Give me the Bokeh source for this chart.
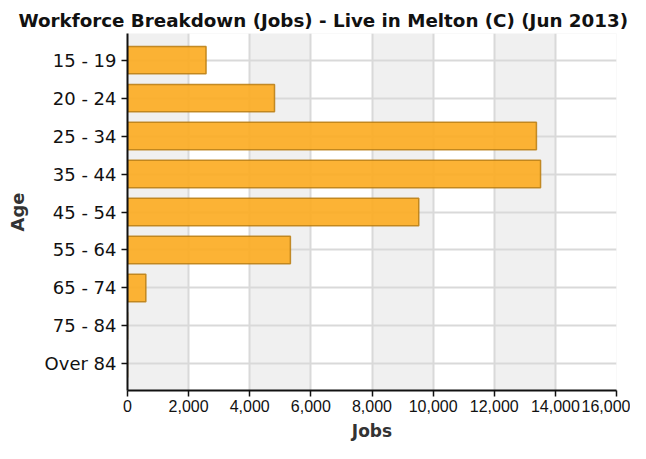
from bokeh.plotting import figure
from bokeh.models import FactorRange, Range1d, NumeralTickFormatter, FixedTicker
from bokeh.embed import file_html
from bokeh.resources import INLINE

ages = ["15 - 19", "20 - 24", "25 - 34", "35 - 44", "45 - 54", "55 - 64", "65 - 74", "75 - 84", "Over 84"]
jobs = [2570, 4810, 13380, 13515, 9530, 5330, 600, 0, 0]
x_ticks = [0, 2000, 4000, 6000, 8000, 10000, 12000, 14000, 16000]
title_text = "Workforce Breakdown (Jobs) - Live in Melton (C) (Jun 2013)"
x_label = "Jobs"
y_label = "Age"

p = figure(width=630, height=443, output_backend="svg", toolbar_location=None,
           y_range=FactorRange(factors=list(reversed(ages)), range_padding=0.2, range_padding_units="absolute"),
           x_range=Range1d(x_ticks[0], x_ticks[-1]))
p.min_border_left = 127
p.min_border_right = 14
p.min_border_top = 33
p.min_border_bottom = 53
p.outline_line_color = None
p.background_fill_color = "#F0F0F0"

p.hbar(y=ages, right=jobs, left=0, height=0.72, fill_color="#FCAB1F", fill_alpha=0.9,
       line_color="#B97C12", line_width=1.5, line_alpha=0.85)

p.title.text = title_text
p.title.align = "left"
p.title.offset = -109
p.title.standoff = 6
p.title.text_font = "DejaVu Sans"
p.title.text_font_size = "18.3px"
p.title.text_font_style = "bold"
p.title.text_color = "#111111"

p.xaxis.ticker = FixedTicker(ticks=x_ticks)
p.xaxis.formatter = NumeralTickFormatter(format="0,0")
p.xaxis.axis_label = x_label
p.yaxis.axis_label = y_label
for ax in (p.xaxis, p.yaxis):
    ax.axis_line_color = "#111111"
    ax.axis_line_width = 2
    ax.major_tick_line_color = "#111111"
    ax.major_tick_line_width = 1.5
    ax.major_tick_out = 6
    ax.major_tick_in = 0
    ax.minor_tick_line_color = None
    ax.major_label_text_color = "#111111"
    ax.axis_label_text_font = "DejaVu Sans"
    ax.axis_label_text_font_style = "bold"
    ax.axis_label_text_font_size = "17px"
    ax.axis_label_text_color = "#333333"

p.yaxis.axis_label_text_font_size = "18px"
p.yaxis.major_label_text_font = "DejaVu Sans"
p.yaxis.major_label_text_font_size = "18px"
p.yaxis.major_label_standoff = 5
p.yaxis.axis_label_standoff = 14
p.xaxis.major_label_text_font = "Liberation Sans"
p.xaxis.major_label_text_font_size = "16px"
p.xaxis.major_label_standoff = 3
p.xaxis.axis_label_standoff = 6

p.xgrid.grid_line_color = "#D9D9D9"
p.xgrid.grid_line_width = 2
p.xgrid.band_fill_color = "white"
p.xgrid.band_fill_alpha = 1
p.ygrid.grid_line_color = "#D9D9D9"
p.ygrid.grid_line_width = 2

open("out.html", "w").write(file_html(p, INLINE))
